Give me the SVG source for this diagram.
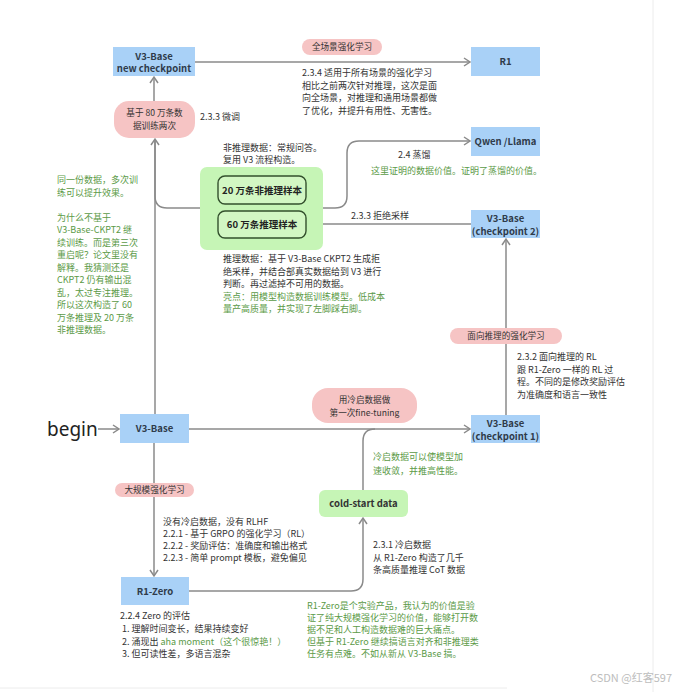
<svg xmlns="http://www.w3.org/2000/svg" width="692" height="692" viewBox="0 0 692 692">
<style>
text{font-family:"Noto Sans CJK SC","Noto Sans",sans-serif;font-size:9px;fill:#333;}
.lb{font-weight:bold;text-anchor:middle;fill:#2f3b4a;font-size:9.5px;}
.pl{text-anchor:middle;fill:#333;font-size:8.6px;}
.g{fill:#5b9a47;}
.blue{fill:#a9d1f7;}
.pink{fill:#f6c4c4;}
.grn{fill:#c6f5b6;}
.con{fill:none;stroke:#8a8a8a;stroke-width:1.5;}
.inner{fill:#d2f7c3;stroke:#33502d;stroke-width:1.4;}
</style>
<defs>
<marker id="arr" markerWidth="10" markerHeight="10" refX="8" refY="5" orient="auto" markerUnits="userSpaceOnUse">
<path d="M2,1 L8,5 L2,9" fill="none" stroke="#8a8a8a" stroke-width="1.5"/>
</marker>
</defs>
<rect width="692" height="692" fill="#ffffff"/>
<line x1="653" y1="0" x2="653" y2="692" stroke="#ececec" stroke-width="1"/>
<line x1="0" y1="688" x2="507" y2="688" stroke="#ececec" stroke-width="1"/>

<g id="connectors">
<path class="con" d="M98,429 H119" marker-end="url(#arr)"/>
<path class="con" d="M189,429 H470" marker-end="url(#arr)"/>
<path class="con" d="M154,443 V576" marker-end="url(#arr)"/>
<path class="con" d="M189,591 H351 Q363,591 363,579 V518" marker-end="url(#arr)"/>
<path class="con" d="M363,490 V441 Q363,429 375,429"/>
<path class="con" d="M506,415 V239" marker-end="url(#arr)"/>
<path class="con" d="M471,224 H307" marker-end="url(#arr)"/>
<path class="con" d="M323,208 H335 Q347,208 347,196 V153 Q347,141 359,141 H470" marker-end="url(#arr)"/>
<path class="con" d="M200,208 H167 Q155,208 155,196 V139" marker-end="url(#arr)"/>
<path class="con" d="M155,414 V139"/>
<path class="con" d="M154,101 V77" marker-end="url(#arr)"/>
<path class="con" d="M195,62 H470" marker-end="url(#arr)"/>
</g>

<g id="begin"><text x="47" y="436" style="font-size:19px;fill:#222;font-family:'Noto Sans','Noto Sans CJK SC',sans-serif">begin</text></g>

<g id="v3base"><rect class="blue" x="120" y="414" width="69" height="29"/><text class="lb" x="154.5" y="432">V3-Base</text></g>
<g id="r1zero"><rect class="blue" x="121" y="577" width="68" height="28"/><text class="lb" x="155" y="594.5">R1-Zero</text></g>
<g id="ckpt1"><rect class="blue" x="471" y="415" width="69" height="28"/><text class="lb" x="505.5" y="427">V3-Base</text><text class="lb" x="505.5" y="440">(checkpoint 1)</text></g>
<g id="ckpt2"><rect class="blue" x="471" y="210" width="69" height="28"/><text class="lb" x="505.5" y="222">V3-Base</text><text class="lb" x="505.5" y="235">(checkpoint 2)</text></g>
<g id="qwen"><rect class="blue" x="471" y="127" width="69" height="29"/><text class="lb" x="505.5" y="144.5">Qwen /Llama</text></g>
<g id="r1"><rect class="blue" x="471" y="47" width="69" height="29"/><text class="lb" x="505.5" y="64.5">R1</text></g>
<g id="newckpt"><rect class="blue" x="113" y="47" width="82" height="29"/><text class="lb" x="154" y="59.5">V3-Base</text><text class="lb" x="154" y="72">new checkpoint</text></g>

<g id="coldstart"><rect class="grn" x="319" y="490" width="89" height="27" rx="6"/><text class="lb" x="363.5" y="506.5" style="fill:#333">cold-start data</text></g>

<g id="datagroup">
<rect class="grn" x="200" y="167" width="123" height="83" rx="7"/>
<rect class="inner" x="218" y="176" width="88" height="28" rx="7"/>
<text class="lb" x="262" y="193.5" style="fill:#222">20 万条非推理样本</text>
<rect class="inner" x="218" y="211" width="88" height="27" rx="7"/>
<text class="lb" x="262" y="228" style="fill:#222">60 万条推理样本</text>
</g>

<g id="pill-full"><rect class="pink" x="302" y="39" width="80" height="16" rx="8"/><text class="pl" x="342" y="50">全场景强化学习</text></g>
<g id="pill-80w"><rect class="pink" x="114" y="101" width="81" height="37" rx="15"/><text class="pl" x="154.5" y="116">基于 80 万条数</text><text class="pl" x="154.5" y="129">据训练两次</text></g>
<g id="pill-cold"><rect class="pink" x="312" y="388" width="105" height="35" rx="16"/><text class="pl" x="364.5" y="403">用冷启数据做</text><text class="pl" x="364.5" y="416">第一次fine-tuning</text></g>
<g id="pill-reason"><rect class="pink" x="450" y="328" width="112" height="16" rx="8"/><text class="pl" x="506" y="339">面向推理的强化学习</text></g>
<g id="pill-large"><rect class="pink" x="115" y="483" width="79" height="14" rx="7"/><text class="pl" x="154.5" y="493">大规模强化学习</text></g>

<g id="notes">
<text x="302" y="76">2.3.4 适用于所有场景的强化学习</text>
<text x="302" y="88.5">相比之前两次针对推理，这次是面</text>
<text x="302" y="101">向全场景，对推理和通用场景都做</text>
<text x="302" y="113.5">了优化，并提升有用性、无害性。</text>

<text x="200" y="120">2.3.3 微调</text>

<text x="223" y="151">非推理数据：常规问答。</text>
<text x="223" y="163">复用 V3 流程构造。</text>

<text x="398" y="158">2.4 蒸馏</text>
<text class="g" x="371" y="174">这里证明的数据价值。证明了蒸馏的价值。</text>

<text x="351" y="219">2.3.3 拒绝采样</text>

<text x="223" y="262">推理数据：基于 V3-Base CKPT2 生成拒</text>
<text x="223" y="274.5">绝采样，并结合部真实数据给到 V3 进行</text>
<text x="223" y="287">判断。再过滤掉不可用的数据。</text>
<text class="g" x="223" y="299.5">亮点：用模型构造数据训练模型。低成本</text>
<text class="g" x="223" y="312">量产高质量，并实现了左脚踩右脚。</text>

<text class="g" x="57" y="183">同一份数据，多次训</text>
<text class="g" x="57" y="195.5">练可以提升效果。</text>
<text class="g" x="57" y="220.5">为什么不基于</text>
<text class="g" x="57" y="233">V3-Base-CKPT2 继</text>
<text class="g" x="57" y="245.5">续训练。而是第三次</text>
<text class="g" x="57" y="258">重启呢？论文里没有</text>
<text class="g" x="57" y="270.5">解释。我猜测还是</text>
<text class="g" x="57" y="283">CKPT2 仍有输出混</text>
<text class="g" x="57" y="295.5">乱，太过专注推理。</text>
<text class="g" x="57" y="308">所以这次构造了 60</text>
<text class="g" x="57" y="320.5">万条推理及 20 万条</text>
<text class="g" x="57" y="333">非推理数据。</text>

<text x="517" y="360">2.3.2 面向推理的 RL</text>
<text x="517" y="372.5">跟 R1-Zero 一样的 RL 过</text>
<text x="517" y="385">程。不同的是修改奖励评估</text>
<text x="517" y="397.5">为准确度和语言一致性</text>

<text class="g" x="373" y="460">冷启数据可以使模型加</text>
<text class="g" x="373" y="474">速收敛，并推高性能。</text>

<text x="163" y="525">没有冷启数据，没有 RLHF</text>
<text x="163" y="537">2.2.1 - 基于 GRPO 的强化学习（RL）</text>
<text x="163" y="549">2.2.2 - 奖励评估：准确度和输出格式</text>
<text x="163" y="561">2.2.3 - 简单 prompt 模板，避免偏见</text>

<text x="373" y="548">2.3.1 冷启数据</text>
<text x="373" y="560.5">从 R1-Zero 构造了几千</text>
<text x="373" y="573">条高质量推理 CoT 数据</text>

<text x="120" y="619">2.2.4 Zero 的评估</text>
<text x="122" y="632"> 1. 理解时间变长，结果持续变好</text>
<text x="122" y="645"> 2. 涌现出 <tspan class="g">aha moment（这个很惊艳！）</tspan></text>
<text x="122" y="657"> 3. 但可读性差，多语言混杂</text>

<text class="g" x="307" y="609">R1-Zero是个实验产品，我认为的价值是验</text>
<text class="g" x="307" y="621">证了纯大规模强化学习的价值，能够打开数</text>
<text class="g" x="307" y="633">据不足和人工构造数据难的巨大痛点。</text>
<text class="g" x="307" y="645">但基于 R1-Zero 继续搞语言对齐和非推理类</text>
<text class="g" x="307" y="657">任务有点难。不如从新从 V3-Base 搞。</text>
</g>

<text x="590" y="682" style="font-size:11px;fill:#bdbdbd">CSDN @红客597</text>
</svg>
